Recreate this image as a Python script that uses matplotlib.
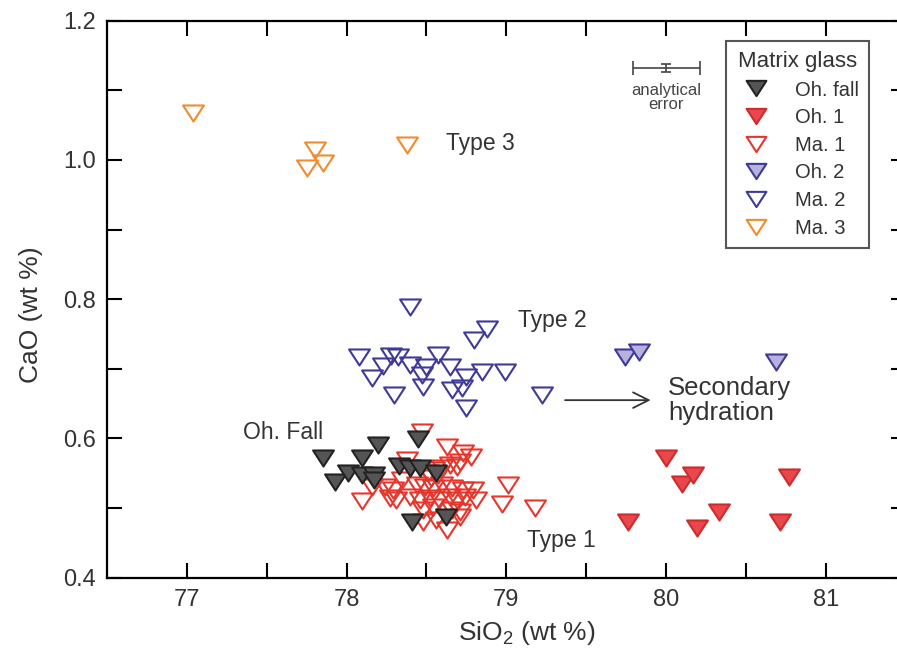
#!/usr/bin/env python

import numpy
import matplotlib

matplotlib.use("Agg")
from matplotlib import pyplot
from matplotlib.path import Path

# data

oh_fall_x = [77.85, 77.93, 78.01, 78.10, 78.10, 78.17, 78.17, 78.20,
             78.33, 78.40, 78.46, 78.45, 78.56, 78.41, 78.62]
oh_fall_y = [0.572, 0.537, 0.550, 0.572, 0.547, 0.547, 0.540, 0.590,
             0.561, 0.557, 0.558, 0.599, 0.550, 0.480, 0.487]

oh1_x = [79.76, 80.00, 80.10, 80.17, 80.19, 80.33, 80.71, 80.77]
oh1_y = [0.480, 0.572, 0.535, 0.547, 0.472, 0.495, 0.480, 0.545]

ma1_x = [78.47, 78.63, 78.73, 78.78, 78.38, 78.71, 78.65, 78.69,
         78.24, 78.35, 78.44, 78.49, 78.54, 78.60, 78.66, 78.73,
         78.79, 79.01, 78.10, 78.27, 78.31, 78.40, 78.46, 78.52,
         78.58, 78.65, 78.69, 78.74, 78.81, 78.97, 79.18, 78.48,
         78.54, 78.66, 78.71, 78.48, 78.56, 78.63, 78.71, 78.53,
         78.29, 78.16, 78.55, 78.57, 78.60, 78.51]
ma1_y = [0.609, 0.588, 0.579, 0.573, 0.569, 0.566, 0.562, 0.559,
         0.530, 0.540, 0.533, 0.530, 0.529, 0.533, 0.529, 0.526,
         0.526, 0.533, 0.510, 0.514, 0.512, 0.516, 0.512, 0.514,
         0.512, 0.516, 0.512, 0.516, 0.512, 0.506, 0.500, 0.497,
         0.501, 0.497, 0.494, 0.480, 0.483, 0.468, 0.487, 0.543,
         0.526, 0.530, 0.555, 0.548, 0.558, 0.551]

oh2_x = [79.74, 79.83, 80.69]
oh2_y = [0.717, 0.724, 0.710]

ma2_x = [78.40, 78.88, 78.80, 78.08, 78.28, 78.32, 78.57, 78.23,
         78.40, 78.50, 78.65, 78.85, 78.99, 78.16, 78.47, 78.75,
         78.30, 78.48, 78.66, 78.72, 78.75, 79.22]
ma2_y = [0.789, 0.757, 0.741, 0.717, 0.718, 0.717, 0.720, 0.704,
         0.705, 0.703, 0.703, 0.695, 0.695, 0.687, 0.691, 0.688,
         0.662, 0.674, 0.670, 0.672, 0.644, 0.662]

ma3_x = [77.04, 77.80, 77.75, 77.85, 78.38]
ma3_y = [1.067, 1.014, 0.988, 0.996, 1.021]

err_x = [80.0]
err_y = [1.132]
err_dx = [0.21]
err_dy = [0.006]

x_ticks = [77, 78, 79, 80, 81]
y_ticks = [0.4, 0.6, 0.8, 1.0, 1.2]

# style

pyplot.rcParams["font.family"] = ["Liberation Sans", "DejaVu Sans"]
pyplot.rcParams["mathtext.default"] = "regular"

grey_txt = "#333333"
# flat down-pointing triangle, closed so open markers get all 3 sides
tri = Path([(-1.0, 0.77), (1.0, 0.77), (0.0, -0.77), (-1.0, 0.77)], closed=True)
ms = 15
mew = 1.5

fig = pyplot.figure(figsize=(8.97, 6.56), dpi=100)
ax = fig.add_axes([0.119, 0.1194, 0.891, 0.849])

ax.plot(ma1_x, ma1_y, ls="none", marker=tri, ms=ms, mew=mew,
        mfc="none", mec="#e8352b", label="Ma. 1", zorder=3)
ax.plot(oh_fall_x, oh_fall_y, ls="none", marker=tri, ms=ms, mew=mew,
        mfc="#555555", mec="#222222", label="Oh. fall", zorder=4)
ax.plot(oh1_x, oh1_y, ls="none", marker=tri, ms=ms, mew=mew,
        mfc="#e8474d", mec="#cf2b2b", label="Oh. 1", zorder=3)
ax.plot(oh2_x, oh2_y, ls="none", marker=tri, ms=ms, mew=mew,
        mfc="#b6b2dc", mec="#3d3a99", label="Oh. 2", zorder=3)
ax.plot(ma2_x, ma2_y, ls="none", marker=tri, ms=ms, mew=mew,
        mfc="none", mec="#3d3a99", label="Ma. 2", zorder=3)
ax.plot(ma3_x, ma3_y, ls="none", marker=tri, ms=ms, mew=mew,
        mfc="none", mec="#f28a2e", label="Ma. 3", zorder=3)

# analytical error
ax.errorbar(err_x, err_y, xerr=err_dx, fmt="none", ecolor="#444444",
            elinewidth=1.2, capsize=5, capthick=1.2)
ax.errorbar(err_x, err_y, yerr=err_dy, fmt="none", ecolor="#444444",
            elinewidth=1.2, capsize=3.5, capthick=1.2)
ax.text(err_x[0], 1.090, "analytical\nerror", ha="center", va="center",
        fontsize=12, color="#444444", linespacing=0.95)

# annotations
ax.text(78.62, 1.024, "Type 3", fontsize=16.5, color=grey_txt, va="center")
ax.text(79.07, 0.770, "Type 2", fontsize=16.5, color=grey_txt, va="center")
ax.text(79.13, 0.454, "Type 1", fontsize=16.5, color=grey_txt, va="center")
ax.text(77.35, 0.608, "Oh. Fall", fontsize=16.5, color=grey_txt, va="center")
ax.text(80.01, 0.654, "Secondary\nhydration", fontsize=18.5, color=grey_txt,
        va="center", linespacing=1.05)
ax.annotate("", xy=(79.92, 0.655), xytext=(79.35, 0.655),
            arrowprops=dict(arrowstyle="->", lw=1.3, color=grey_txt,
                            mutation_scale=28))

# axes
ax.set_xlim(76.5, 81.5)
ax.set_ylim(0.4, 1.2)
ax.set_xticks(x_ticks)
ax.set_xticks(numpy.arange(77.5, 81.5, 1.0), minor=True)
ax.set_yticks(y_ticks)
ax.set_yticks([0.5, 0.7, 0.9, 1.1], minor=True)
ax.set_yticklabels(["%.1f" % v for v in y_ticks])
ax.tick_params(which="both", direction="in", top=True, right=True,
               length=11, width=1.5, labelsize=17, labelcolor=grey_txt,
               pad=8)
for s in ax.spines.values():
    s.set_linewidth(1.6)

ax.set_xlabel("SiO$_2$ (wt %)", fontsize=19, color=grey_txt)
ax.set_ylabel("CaO (wt %)", fontsize=19, color=grey_txt)
ax.xaxis.set_label_coords(0.526, -0.075)
ax.yaxis.set_label_coords(-0.08, 0.472)

# legend
order = ["Oh. fall", "Oh. 1", "Ma. 1", "Oh. 2", "Ma. 2", "Ma. 3"]
handles, labels = ax.get_legend_handles_labels()
lut = dict(zip(labels, handles))
leg = ax.legend([lut[k] for k in order], order, title="Matrix glass",
                loc="upper left", bbox_to_anchor=(0.775, 0.964),
                fontsize=14.5, title_fontsize=16, frameon=True, fancybox=False,
                edgecolor="#555555", framealpha=1.0, borderpad=0.5,
                labelspacing=0.43, handlelength=2.0, handletextpad=0.9,
                markerscale=0.95, borderaxespad=0.0)
leg.get_frame().set_linewidth(1.5)
for t in leg.get_texts():
    t.set_color(grey_txt)
leg.get_title().set_color(grey_txt)

fig.savefig("out.png", dpi=100)
